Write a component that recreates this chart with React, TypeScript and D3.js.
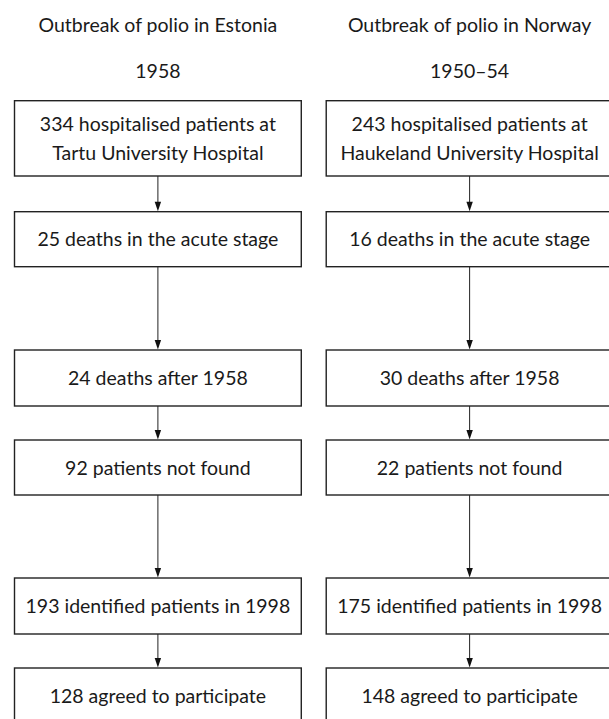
import React, { useEffect, useRef } from 'react';
import * as d3 from 'd3';

// columns of the flow diagram
const columns = ['Estonia', 'Norway'];
const headings = ['Outbreak of polio in Estonia', 'Outbreak of polio in Norway'];
const periods = ['1958', '1950–54'];

const estoniaSteps = [
  ['334 hospitalised patients at', 'Tartu University Hospital'],
  ['25 deaths in the acute stage'],
  ['24 deaths after 1958'],
  ['92 patients not found'],
  ['193 identified patients in 1998'],
  ['128 agreed to participate'],
];

const norwaySteps = [
  ['243 hospitalised patients at', 'Haukeland University Hospital'],
  ['16 deaths in the acute stage'],
  ['30 deaths after 1958'],
  ['22 patients not found'],
  ['175 identified patients in 1998'],
  ['148 agreed to participate'],
];

// layout of the rows (top edge and height of each box)
const rowTops = [100.7, 211.7, 350, 440, 578, 668];
const rowHeights = [75.3, 55, 56, 55, 56, 55];

const width = 609;
const height = 719;
const font = 'Lato, "Noto Sans", sans-serif';
const fontSize = 19.5;
const lineGap = 28.5;

const App: React.FC = () => {
  const svgRef = useRef<SVGSVGElement | null>(null);

  useEffect(() => {
    if (!svgRef.current) return;
    const svg = d3.select(svgRef.current).html('');

    const x = d3.scaleBand<string>()
      .domain(columns)
      .range([14.5, 613])
      .paddingInner(0.08);

    const stepsByColumn = [estoniaSteps, norwaySteps];

    columns.forEach((col, ci) => {
      const x0 = x(col) as number;
      const bw = x.bandwidth();
      const cx = x0 + bw / 2;
      const g = svg.append('g');

      g.append('text')
        .attr('x', cx)
        .attr('y', 31.7)
        .attr('text-anchor', 'middle')
        .attr('font-family', font)
        .attr('font-size', fontSize)
        .attr('fill', '#1a1a1a')
        .text(headings[ci]);

      g.append('text')
        .attr('x', cx)
        .attr('y', 78)
        .attr('text-anchor', 'middle')
        .attr('font-family', font)
        .attr('font-size', fontSize)
        .attr('fill', '#1a1a1a')
        .text(periods[ci]);

      const steps = stepsByColumn[ci];

      steps.forEach((lines, ri) => {
        const top = rowTops[ri];
        const h = rowHeights[ri];
        const cy = top + h / 2;

        g.append('rect')
          .attr('x', x0)
          .attr('y', top)
          .attr('width', bw)
          .attr('height', h)
          .attr('fill', '#fff')
          .attr('stroke', '#222')
          .attr('stroke-width', 1.4);

        lines.forEach((line, li) => {
          g.append('text')
            .attr('x', cx)
            .attr('y', cy + 7 + (li - (lines.length - 1) / 2) * lineGap)
            .attr('text-anchor', 'middle')
            .attr('font-family', font)
            .attr('font-size', fontSize)
            .attr('fill', '#1a1a1a')
            .text(line);
        });

        // arrow to the next box
        if (ri < steps.length - 1) {
          const y1 = top + h;
          const y2 = rowTops[ri + 1];
          const headLen = 10;
          g.append('line')
            .attr('x1', cx)
            .attr('x2', cx)
            .attr('y1', y1)
            .attr('y2', y2 - headLen + 1)
            .attr('stroke', '#222')
            .attr('stroke-width', 1);

          const p = d3.path();
          p.moveTo(cx - 3.2, y2 - headLen);
          p.lineTo(cx + 3.2, y2 - headLen);
          p.lineTo(cx, y2 - 0.5);
          p.closePath();
          g.append('path')
            .attr('d', p.toString())
            .attr('fill', '#111');
        }
      });
    });
  }, []);

  return (
    <svg
      ref={svgRef}
      width={width}
      height={height}
      style={{ position: 'absolute', left: 0, top: 0, background: '#fff', display: 'block' }}
    />
  );
};

export default App;
